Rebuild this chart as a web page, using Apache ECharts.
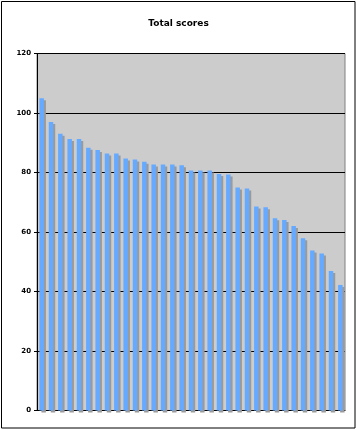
<!DOCTYPE html>
<html>
<head>
<meta charset="utf-8">
<script src="https://cdn.jsdelivr.net/npm/echarts@6/dist/echarts.min.js"></script>
<style>
html,body{margin:0;padding:0;background:#fff;}
#c{width:357px;height:430px;}
</style>
</head>
<body>
<div id="c"></div>
<script>
const titleText = 'Total scores';
const categories = Array.from({length: 33}, (_, i) => String(i + 1));
const totalScores = [105, 97, 93, 91.3, 91.3, 88.3, 87.6, 86.4, 86.4, 84.7, 84.4, 83.6, 82.7, 82.7, 82.7, 82.4, 80.7, 80.7, 80.7, 79.5, 79.3, 75.0, 74.6, 68.6, 68.3, 64.6, 64.0, 62.0, 57.9, 53.8, 52.8, 46.9, 42.2];
const yTicks = [0, 20, 40, 60, 80, 100, 120];

const chart = echarts.init(document.getElementById('c'), null, {renderer: 'canvas'});
chart.setOption({
  animation: false,
  backgroundColor: '#ffffff',
  title: {
    text: titleText,
    left: 'center',
    top: 14,
    textStyle: {fontFamily: 'DejaVu Sans', fontSize: 9, fontWeight: 'bold', color: '#000'}
  },
  graphic: [{
    type: 'rect',
    shape: {x: 1.5, y: 1.5, width: 353.5, height: 426.5},
    style: {fill: 'none', stroke: '#000', lineWidth: 1},
    silent: true
  }],
  grid: {
    left: 37, right: 12, top: 53.5, bottom: 19.5,
    show: true, backgroundColor: '#cccccc', borderColor: '#808080', borderWidth: 1,
    containLabel: false
  },
  xAxis: {
    type: 'category',
    data: categories,
    axisLine: {show: true, lineStyle: {color: '#000', width: 1}},
    axisTick: {show: false},
    axisLabel: {show: false},
    splitLine: {show: false}
  },
  yAxis: {
    type: 'value',
    min: yTicks[0], max: yTicks[yTicks.length - 1], interval: 20,
    axisLine: {show: true, lineStyle: {color: '#000', width: 1}},
    axisTick: {show: true, inside: false, length: 3, lineStyle: {color: '#000'}},
    axisLabel: {margin: 6, fontFamily: 'DejaVu Sans', fontSize: 7, fontWeight: 'bold', color: '#000'},
    splitLine: {show: true, lineStyle: {color: '#000', width: 1, type: 'solid'}}
  },
  series: [{
    type: 'bar',
    data: totalScores,
    barWidth: '48%',
    itemStyle: {
      color: '#66aaff',
      shadowColor: '#9a9a9a',
      shadowBlur: 0,
      shadowOffsetX: 2,
      shadowOffsetY: 2
    }
  }]
});
</script>
</body>
</html>
